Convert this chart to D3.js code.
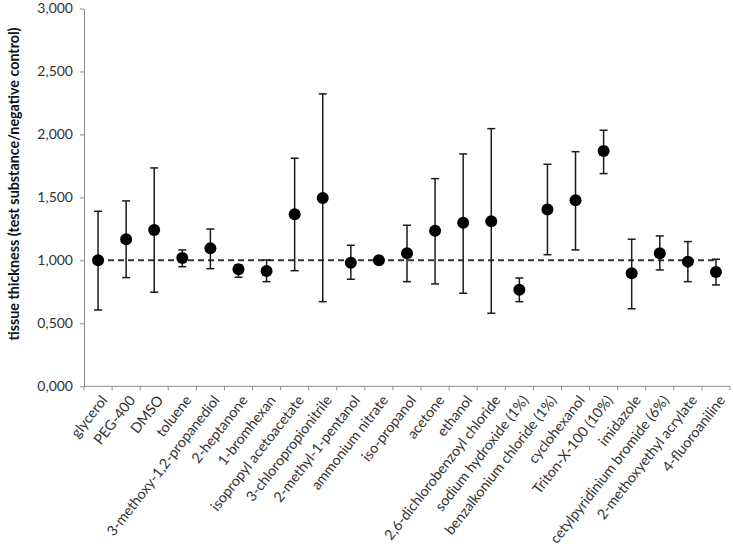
<!DOCTYPE html>
<html>
<head>
<meta charset="utf-8">
<script src="https://cdn.jsdelivr.net/npm/d3@7"></script>
<style>
  html, body { margin: 0; padding: 0; background: #fff; }
  svg { display: block; }
  text { font-family: Lato, "Open Sans", sans-serif; }
</style>
</head>
<body>
<svg id="chart" width="733" height="558"></svg>
<script>
const categories = [
  "glycerol", "PEG-400", "DMSO", "toluene", "3-methoxy-1,2-propanediol",
  "2-heptanone", "1-bromhexan", "isopropyl acetoacetate", "3-chloropropionitrile",
  "2-methyl-1-pentanol", "ammonium nitrate", "iso-propanol", "acetone", "ethanol",
  "2,6-dichlorobenzoyl chloride", "sodium hydroxide (1%)", "benzalkonium chloride (1%)",
  "cyclohexanol", "Triton-X-100 (10%)", "imidazole", "cetylpyridinium bromide (6%)",
  "2-methoxyethyl acrylate", "4-fluoroaniline"
];
const means = [1.000, 1.168, 1.241, 1.019, 1.096, 0.929, 0.916, 1.366, 1.496, 0.982, 1.000,
  1.056, 1.236, 1.299, 1.311, 0.767, 1.403, 1.477, 1.869, 0.898, 1.056, 0.990, 0.908];
const upper = [1.390, 1.472, 1.734, 1.083, 1.249, 0.965, 1.003, 1.811, 2.322, 1.120, 1.010,
  1.279, 1.649, 1.845, 2.046, 0.860, 1.763, 1.863, 2.033, 1.168, 1.194, 1.149, 1.009];
const lower = [0.606, 0.863, 0.747, 0.950, 0.934, 0.866, 0.831, 0.918, 0.672, 0.850, 0.990,
  0.831, 0.813, 0.739, 0.580, 0.672, 1.045, 1.083, 1.689, 0.616, 0.924, 0.831, 0.805];
const controlValue = 1.0;
const yTicks = [0, 0.5, 1.0, 1.5, 2.0, 2.5, 3.0];
const yTitle = "tissue thickness  (test substance/negative control)";

const svg = d3.select("#chart");
const margin = { left: 84, right: 3, top: 8.5, bottom: 171.7 };
const W = 733, H = 558;

const x = d3.scaleBand().domain(categories)
  .range([margin.left, W - margin.right]).paddingInner(0).paddingOuter(0);
const y = d3.scaleLinear().domain([0, 3]).range([H - margin.bottom, margin.top]);
const cx = d => x(d) + x.bandwidth() / 2;

const fmt = v => d3.format(".3f")(v).replace(".", ",");

// Y axis
const yAxis = svg.append("g").attr("transform", `translate(${margin.left},0)`)
  .call(d3.axisLeft(y).tickValues(yTicks).tickSize(4).tickSizeOuter(0).tickPadding(7)
    .tickFormat(fmt));
yAxis.select(".domain").attr("stroke", "#8c8c8c");
yAxis.selectAll(".tick line").attr("stroke", "#8c8c8c");
yAxis.selectAll(".tick text").attr("fill", "#333").attr("font-size", 14);

// X axis with ticks at category boundaries
const xAxisG = svg.append("g").attr("transform", `translate(0,${y(0)})`);
xAxisG.append("line").attr("x1", margin.left).attr("x2", W - margin.right)
  .attr("stroke", "#8c8c8c");
const boundaries = categories.map(c => x(c)).concat([x(categories[categories.length - 1]) + x.bandwidth()]);
xAxisG.selectAll("line.tk").data(boundaries).join("line").attr("class", "tk")
  .attr("x1", d => d).attr("x2", d => d).attr("y1", 0).attr("y2", 4).attr("stroke", "#8c8c8c");
xAxisG.selectAll("text").data(categories).join("text")
  .attr("transform", d => `translate(${cx(d) + 6},${11}) rotate(-52)`)
  .attr("text-anchor", "end").attr("dy", "0.35em")
  .attr("font-size", 14.3).attr("fill", "#333").text(d => d);

// Y title
svg.append("text")
  .attr("transform", `translate(19,${184}) rotate(-90)`)
  .attr("text-anchor", "middle").attr("font-weight", "bold")
  .attr("font-size", 14.3).attr("fill", "#111").text(yTitle);

// Dashed control line
svg.append("line")
  .attr("x1", cx(categories[0])).attr("x2", cx(categories[categories.length - 1]))
  .attr("y1", y(controlValue)).attr("y2", y(controlValue))
  .attr("stroke", "#333").attr("stroke-width", 2).attr("stroke-dasharray", "6,4");

// Error bars
const eb = svg.append("g").attr("stroke", "#1a1a1a").attr("stroke-width", 1.5);
categories.forEach((c, i) => {
  const xc = cx(c);
  eb.append("line").attr("x1", xc).attr("x2", xc).attr("y1", y(upper[i])).attr("y2", y(lower[i]));
  eb.append("line").attr("x1", xc - 4).attr("x2", xc + 4).attr("y1", y(upper[i])).attr("y2", y(upper[i]));
  eb.append("line").attr("x1", xc - 4).attr("x2", xc + 4).attr("y1", y(lower[i])).attr("y2", y(lower[i]));
});

// Points
svg.append("g").selectAll("circle").data(categories).join("circle")
  .attr("cx", d => cx(d)).attr("cy", (d, i) => y(means[i])).attr("r", 6)
  .attr("fill", "#000");
</script>
</body>
</html>
